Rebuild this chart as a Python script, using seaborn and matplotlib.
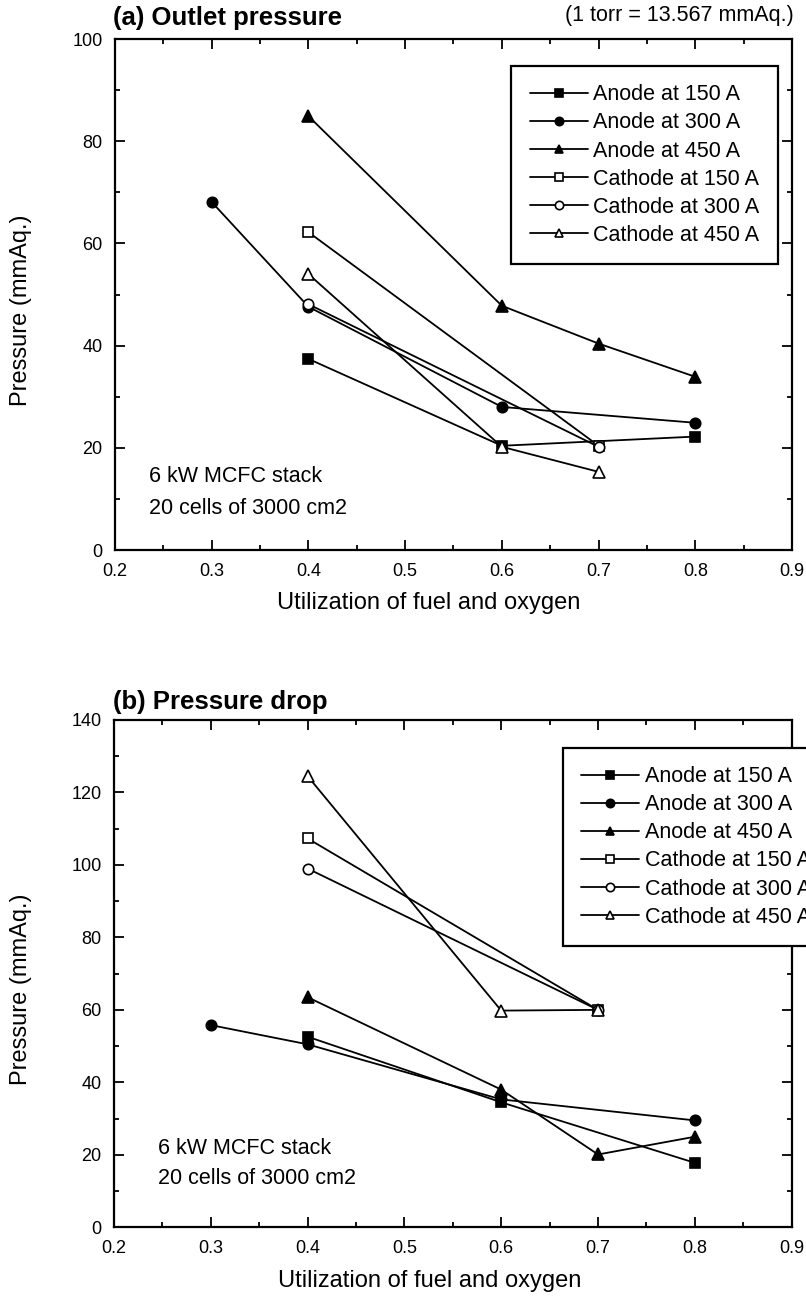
import matplotlib
matplotlib.use("Agg")
import matplotlib.pyplot as plt
import seaborn as sns
import pandas as pd
from matplotlib.ticker import MultipleLocator

sns.set_theme(style="ticks")
plt.rcParams['font.family'] = ['Liberation Sans', 'DejaVu Sans']
plt.rcParams['text.color'] = 'black'
plt.rcParams['axes.labelcolor'] = 'black'
plt.rcParams['xtick.color'] = 'black'
plt.rcParams['ytick.color'] = 'black'

series_names = ["Anode at 150 A", "Anode at 300 A", "Anode at 450 A",
                "Cathode at 150 A", "Cathode at 300 A", "Cathode at 450 A"]

# (a) Outlet pressure
a_x = {
    "Anode at 150 A": [0.4, 0.6, 0.8],
    "Anode at 300 A": [0.3, 0.4, 0.6, 0.8],
    "Anode at 450 A": [0.4, 0.6, 0.7, 0.8],
    "Cathode at 150 A": [0.4, 0.7],
    "Cathode at 300 A": [0.4, 0.7],
    "Cathode at 450 A": [0.4, 0.6, 0.7],
}
a_y = {
    "Anode at 150 A": [37.4, 20.4, 22.2],
    "Anode at 300 A": [68.1, 47.6, 28.0, 24.9],
    "Anode at 450 A": [84.9, 47.8, 40.4, 33.9],
    "Cathode at 150 A": [62.2, 20.4],
    "Cathode at 300 A": [48.1, 20.2],
    "Cathode at 450 A": [54.0, 20.2, 15.3],
}

# (b) Pressure drop
b_x = {
    "Anode at 150 A": [0.4, 0.6, 0.8],
    "Anode at 300 A": [0.3, 0.4, 0.6, 0.8],
    "Anode at 450 A": [0.4, 0.6, 0.7, 0.8],
    "Cathode at 150 A": [0.4, 0.7],
    "Cathode at 300 A": [0.4, 0.7],
    "Cathode at 450 A": [0.4, 0.6, 0.7],
}
b_y = {
    "Anode at 150 A": [52.6, 34.5, 17.8],
    "Anode at 300 A": [55.8, 50.5, 35.3, 29.5],
    "Anode at 450 A": [63.5, 38.0, 20.1, 25.0],
    "Cathode at 150 A": [107.3, 60.0],
    "Cathode at 300 A": [99.0, 60.0],
    "Cathode at 450 A": [124.5, 59.8, 60.0],
}

styles = {
    "Anode at 150 A": dict(marker="s", mfc="black", ms=6.5),
    "Anode at 300 A": dict(marker="o", mfc="black", ms=7.5),
    "Anode at 450 A": dict(marker="^", mfc="black", ms=8),
    "Cathode at 150 A": dict(marker="s", mfc="white", ms=6.5),
    "Cathode at 300 A": dict(marker="o", mfc="white", ms=7.5),
    "Cathode at 450 A": dict(marker="^", mfc="white", ms=8),
}

fig = plt.figure(figsize=(8.06, 13.0), dpi=100)
ax1 = fig.add_axes([0.1427, 0.5769, 0.8399, 0.3931])
ax2 = fig.add_axes([0.1414, 0.0559, 0.8408, 0.3903])


def draw(ax, xs, ys, ymax, ymajor, ymin_step):
    for name in series_names:
        df = pd.DataFrame({"x": xs[name], "y": ys[name]})
        st = styles[name]
        sns.lineplot(data=df, x="x", y="y", ax=ax, color="black", lw=1.3,
                     marker=st["marker"], markerfacecolor=st["mfc"],
                     markeredgecolor="black", markeredgewidth=1.2,
                     markersize=st["ms"], label=name, sort=False,
                     errorbar=None)
    ax.set_xlim(0.2, 0.9)
    ax.set_ylim(0, ymax)
    ax.xaxis.set_major_locator(MultipleLocator(0.1))
    ax.xaxis.set_minor_locator(MultipleLocator(0.05))
    ax.yaxis.set_major_locator(MultipleLocator(ymajor))
    ax.yaxis.set_minor_locator(MultipleLocator(ymin_step))
    ax.set_xticklabels([f"{v:.1f}" for v in ax.get_xticks()])
    ax.tick_params(which="both", direction="in", top=True, right=True,
                   colors="black", labelsize=13, width=1.3)
    ax.tick_params(which="major", length=7, pad=9)
    ax.tick_params(which="minor", length=3.5)
    for sp in ax.spines.values():
        sp.set_linewidth(1.6)
        sp.set_color("black")
    ax.set_xlabel("Utilization of fuel and oxygen", fontsize=17)
    ax.set_ylabel("Pressure (mmAq.)", fontsize=17)


draw(ax1, a_x, a_y, 100, 20, 10)
draw(ax2, b_x, b_y, 140, 20, 10)

ax1.xaxis.set_label_coords(0.464, -0.082)
ax2.xaxis.set_label_coords(0.466, -0.084)
ax1.yaxis.set_label_coords(-0.123, 0.47)
ax2.yaxis.set_label_coords(-0.121, 0.47)

for ax, anchor, loc in [(ax1, (0.979, 0.947), "upper right"),
                        (ax2, (0.6625, 0.945), "upper left")]:
    leg = ax.legend(loc=loc, bbox_to_anchor=anchor, borderaxespad=0,
                    fontsize=15.5, frameon=True, fancybox=False,
                    edgecolor="black", handlelength=2.7, labelspacing=0.33,
                    handletextpad=0.25, borderpad=0.85)
    leg.get_frame().set_linewidth(1.6)
    leg.get_frame().set_alpha(1)
    for h in leg.legend_handles:
        h.set_markersize(6)

ax1.text(0.050, 0.143, "6 kW MCFC stack", transform=ax1.transAxes,
         fontsize=15.5, va="center", ha="left")
ax1.text(0.050, 0.082, "20 cells of 3000 cm2", transform=ax1.transAxes,
         fontsize=15.5, va="center", ha="left")
ax2.text(0.065, 0.156, "6 kW MCFC stack", transform=ax2.transAxes,
         fontsize=15.5, va="center", ha="left")
ax2.text(0.065, 0.097, "20 cells of 3000 cm2", transform=ax2.transAxes,
         fontsize=15.5, va="center", ha="left")

fig.text(113 / 806, 1 - 18 / 1300, "(a) Outlet pressure", fontsize=18.5,
         fontweight="bold", va="center", ha="left")
fig.text(794 / 806, 1 - 16 / 1300, "(1 torr = 13.567 mmAq.)", fontsize=15.5,
         va="center", ha="right")
fig.text(113 / 806, 1 - 702 / 1300, "(b) Pressure drop", fontsize=18.5,
         fontweight="bold", va="center", ha="left")

fig.savefig("out.png", dpi=100)
